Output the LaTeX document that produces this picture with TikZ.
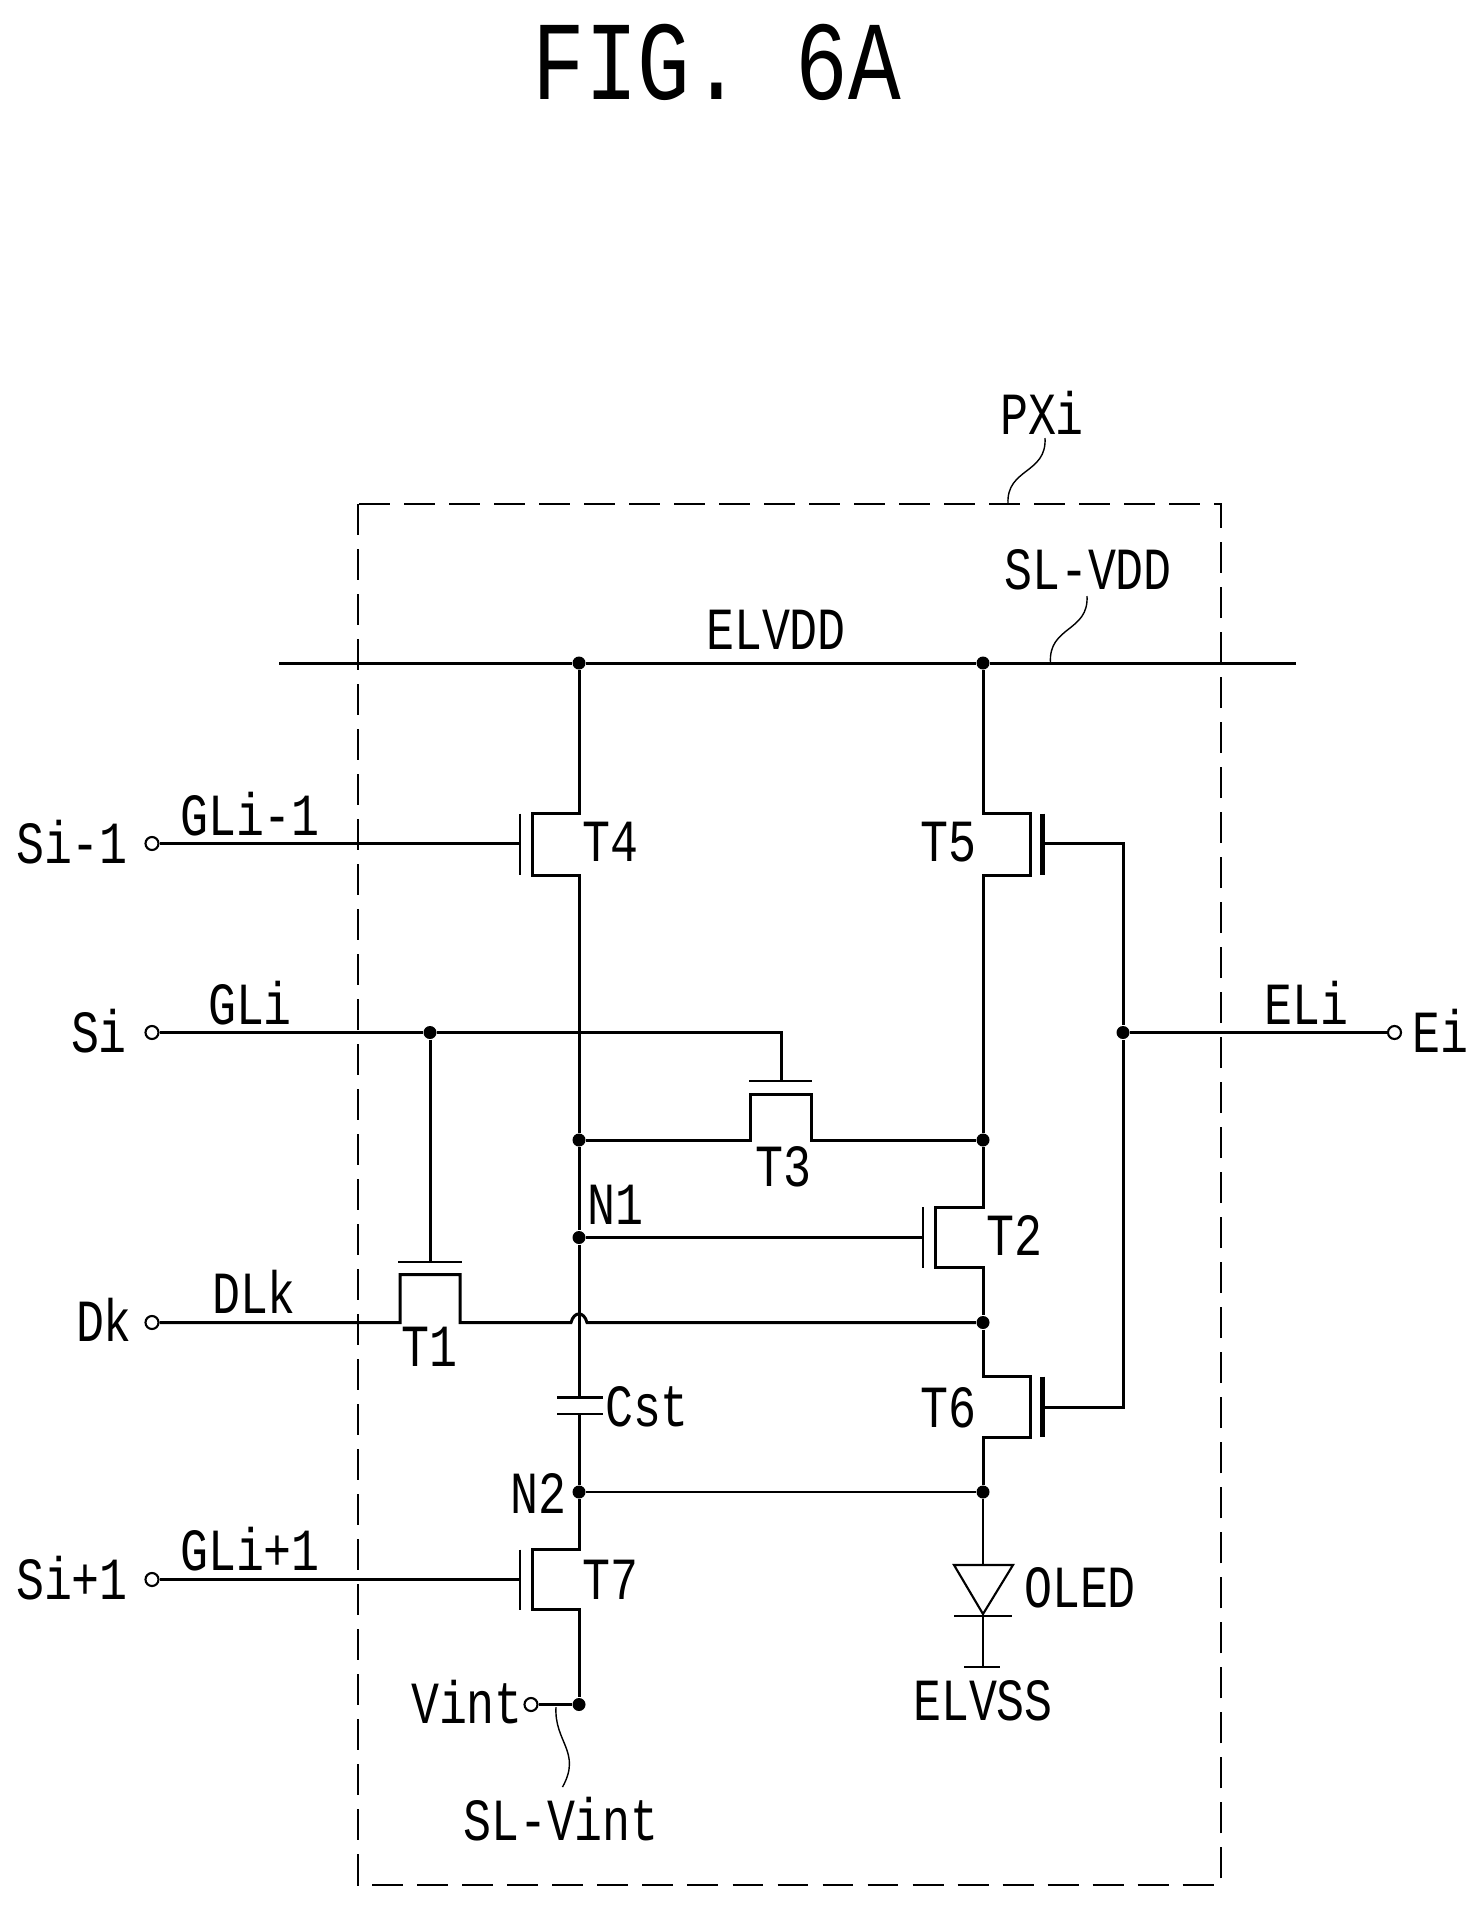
\documentclass[tikz,border=0pt]{standalone}
\usepackage{fontspec}
\setmainfont[FakeStretch=0.78]{Liberation Mono}
\tikzset{
    wire/.style={line width=0.85pt},
    thinwire/.style={line width=0.6pt},
    plate/.style={line width=0.7pt},
    heavyplate/.style={line width=1.2pt},
    leader/.style={line width=0.4pt},
    frame/.style={line width=0.7pt,dash pattern=on 8.8pt off 4pt},
    junction/.style={circle,fill=black,inner sep=0pt,minimum size=0.13cm},
    terminal/.style={circle,draw,fill=white,line width=0.6pt,inner sep=0pt,minimum size=0.13cm},
    lab/.style={inner sep=0pt,font=\fontsize{17}{17}\selectfont},
    figlab/.style={inner sep=0pt,font=\fontsize{32}{32}\selectfont}
}
\begin{document}
\begin{tikzpicture}[x=0.01cm,y=-0.01cm]
        \useasboundingbox (0,0) rectangle (1477,1909);
        \node[figlab] (fig) at (717,62) {FIG. 6A};
        \draw[frame] (358,504) rectangle (1221,1885);
        \coordinate (vddl) at (279,663);
        \coordinate (vddr) at (1296,663);
        \node[junction] (j4)   at (579,663)    {};
        \node[junction] (j5)   at (983,663)    {};
        \node[junction] (j3l)  at (579,1140)   {};
        \node[junction] (j3r)  at (983,1140)   {};
        \node[junction] (jn1)  at (579,1237.5) {};
        \node[junction] (jd)   at (983,1322.5) {};
        \node[junction] (jn2)  at (579,1492)   {};
        \node[junction] (jn2r) at (983,1492)   {};
        \node[junction] (jv)   at (579,1704.5) {};
        \node[junction] (jg)   at (430,1032.5) {};
        \node[junction] (je)   at (1123,1032.5) {};
        \node[terminal] (tsa)  at (152,843.5)  {};
        \node[terminal] (tsb)  at (152,1032.5) {};
        \node[terminal] (tsc)  at (152,1579.5) {};
        \node[terminal] (tdk)  at (152,1322.5) {};
        \node[terminal] (tei)  at (1394.5,1032.5) {};
        \node[terminal] (tvi)  at (531,1704.5) {};
        \coordinate (t4s) at (579,813.5);
        \coordinate (t4d) at (579,875);
        \coordinate (t4c) at (532,843.5);
        \coordinate (t4g) at (520,843.5);
        \coordinate (t7s) at (579,1549.5);
        \coordinate (t7d) at (579,1609.5);
        \coordinate (t7c) at (532,1579.5);
        \coordinate (t7g) at (520,1579.5);
        \coordinate (t2s) at (983,1207);
        \coordinate (t2d) at (983,1267.5);
        \coordinate (t2c) at (935,1237.5);
        \coordinate (t2g) at (923,1237.5);
        \coordinate (t5s) at (983,813.5);
        \coordinate (t5d) at (983,875);
        \coordinate (t5c) at (1030,843.5);
        \coordinate (t5g) at (1042.5,843.5);
        \coordinate (t6s) at (983,1376.5);
        \coordinate (t6d) at (983,1437);
        \coordinate (t6c) at (1030,1407);
        \coordinate (t6g) at (1042.5,1407);
        \coordinate (t3l) at (750,1140);
        \coordinate (t3r) at (811,1140);
        \coordinate (t3c) at (781,1094);
        \coordinate (t3g) at (781,1081);
        \coordinate (t1l) at (400,1322.5);
        \coordinate (t1r) at (460,1322.5);
        \coordinate (t1c) at (430,1274.5);
        \coordinate (t1g) at (430,1262);
        \coordinate (hopl) at (571,1322.5);
        \coordinate (hopr) at (587,1322.5);
        \coordinate (csta) at (579,1397.5);
        \coordinate (cstb) at (579,1414);
        \coordinate (olla) at (954,1565);
        \coordinate (ollb) at (1013,1565);
        \coordinate (ollc) at (983,1614);
        \coordinate (olta) at (983,1565);
        \coordinate (oltb) at (983,1616);
        \coordinate (vss)  at (983,1667);
        \draw[wire]       (vddl) -- (j4) -- (j5) -- (vddr);
        \draw[wire]       (j4) -- (t4s) -| (t4c) |- (t4d) -- (j3l) -- (jn1) -- (csta);
        \draw[wire]       (cstb) -- (jn2) -- (t7s) -| (t7c) |- (t7d) -- (jv);
        \draw[wire]       (j5) -- (t5s) -| (t5c) |- (t5d) -- (j3r) -- (t2s) -| (t2c) |- (t2d) -- (jd);
        \draw[wire]       (jd) -- (t6s) -| (t6c) |- (t6d) -- (jn2r);
        \draw[thinwire]   (jn2r) -- (olta);
        \draw[wire]       (tsa) -- (t4g);
        \draw[wire]       (tsc) -- (t7g);
        \draw[wire]       (tsb) -- (jg) -| (t3g);
        \draw[wire]       (jg)  -- (t1g);
        \draw[wire]       (j3l) -- (t3l) |- (t3c) -| (t3r) -- (j3r);
        \draw[wire]       (tdk) -- (t1l) |- (t1c) -| (t1r) -- (hopl) .. controls (574,1311) and (584,1311) .. (hopr) -- (jd);
        \draw[wire]       (jn1) -- (t2g);
        \draw[thinwire]   (jn2) -- (jn2r);
        \draw[wire]       (t5g) -| (je);
        \draw[wire]       (t6g) -| (je);
        \draw[wire]       (je)  -- (tei);
        \draw[thinwire]   (tvi) -- (jv);
        \draw[plate]      (t4g |- t4s) -- (t4g |- t4d);
        \draw[plate]      (t7g |- t7s) -- (t7g |- t7d);
        \draw[plate]      (t2g |- t2s) -- (t2g |- t2d);
        \draw[heavyplate] (t5g |- t5s) -- (t5g |- t5d);
        \draw[heavyplate] (t6g |- t6s) -- (t6g |- t6d);
        \draw[plate]      (749,1081) -- (t3g) -- (812,1081);
        \draw[plate]      (398,1262) -- (t1g) -- (461.5,1262);
        \draw[plate]      (557,1397.5) -- (csta) -- (603,1397.5);
        \draw[plate]      (557,1414) -- (cstb) -- (603,1414);
        \draw[thinwire]   (olla) -- (ollb) -- (ollc) -- cycle;
        \draw[thinwire]   (954,1616) -- (oltb) -- (1012,1616);
        \draw[thinwire]   (oltb) -- (vss);
        \draw[thinwire]   (964,1667) -- (vss) -- (1000,1667);
        \draw[leader]     (1045,438) .. controls (1047,474) and (1006,468) .. (1008,504);
        \draw[leader]     (1087,596) .. controls (1089,632) and (1048,626) .. (1050.5,663);
        \draw[leader]     (556,1707) .. controls (554,1742) and (582,1752) .. (562.5,1787);
        \node[lab] (pxi)   at (1042,413)  {PXi};
        \node[lab] (elvdd) at (776,630)   {ELVDD};
        \node[lab] (slvdd) at (1088,570)  {SL-VDD};
        \node[lab] (sa)    at (72,842)    {Si-1};
        \node[lab] (gla)   at (250,814)   {GLi-1};
        \node[lab] (sb)    at (99,1031)   {Si};
        \node[lab] (glb)   at (250,1003)  {GLi};
        \node[lab] (dk)    at (104,1320)  {Dk};
        \node[lab] (dlk)   at (254,1292)  {DLk};
        \node[lab] (sc)    at (72,1578)   {Si+1};
        \node[lab] (glc)   at (250,1549)  {GLi+1};
        \node[lab] (eli)   at (1306,1003) {ELi};
        \node[lab] (ei)    at (1440,1031) {Ei};
        \node[lab] (nt4)   at (610,842)   {T4};
        \node[lab] (nt5)   at (948,842)   {T5};
        \node[lab] (nt3)   at (783,1167)  {T3};
        \node[lab] (nt2)   at (1014,1235) {T2};
        \node[lab] (nt1)   at (429,1347)  {T1};
        \node[lab] (nt6)   at (948,1408)  {T6};
        \node[lab] (nt7)   at (610,1580)  {T7};
        \node[lab] (none)  at (615,1205)  {N1};
        \node[lab] (ntwo)  at (538,1493)  {N2};
        \node[lab] (cst)   at (647,1407)  {Cst};
        \node[lab] (oled)  at (1080,1588) {OLED};
        \node[lab] (elvss) at (983,1701)  {ELVSS};
        \node[lab] (vint)  at (467,1702)  {Vint};
        \node[lab] (slvi)  at (561,1819)  {SL-Vint};
    \end{tikzpicture}
\end{document}
